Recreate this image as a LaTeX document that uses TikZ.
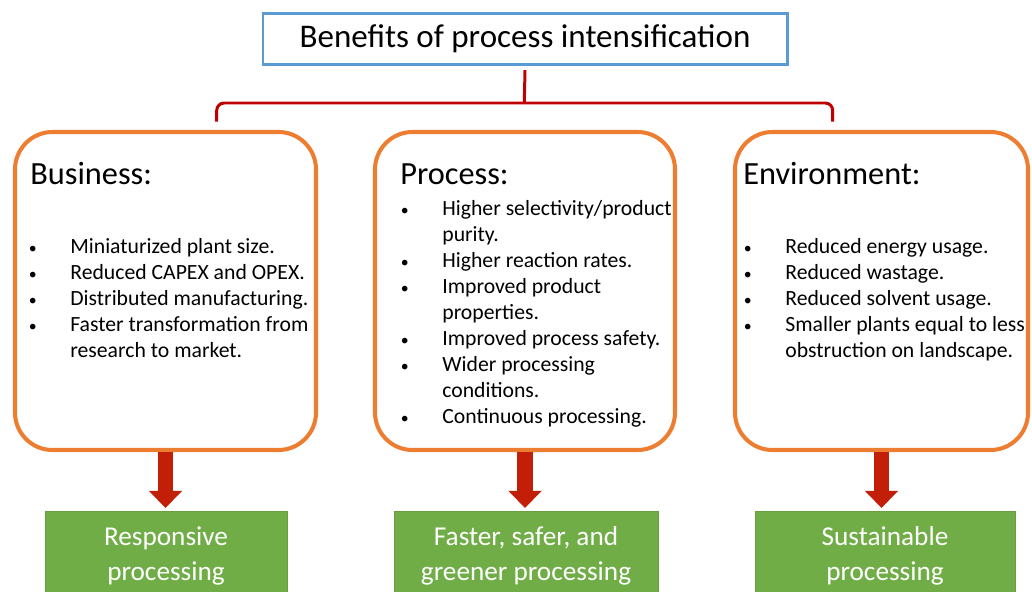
\documentclass[tikz,border=0pt]{standalone}
\usepackage{fontspec}
\setmainfont{Carlito}
\usetikzlibrary{arrows.meta}
\definecolor{piblue}{RGB}{91,155,213}
\definecolor{piorange}{RGB}{237,125,49}
\definecolor{pired}{RGB}{192,0,0}
\definecolor{piarrow}{RGB}{194,30,8}
\definecolor{pigreen}{RGB}{112,173,71}
\newcommand{\pibullet}{\hspace{0.4mm}{\fontsize{9}{9}\selectfont\textbullet}}
\tikzstyle{titlebox} = [draw=piblue, line width=1.7pt, rectangle, inner sep=0pt,
    outer sep=0pt, minimum width=104.8mm, minimum height=10.1mm,
    font=\fontsize{18.8}{22}\selectfont]
\tikzstyle{group} = [draw=piorange, line width=2.3pt, rectangle, rounded corners=7.5mm,
    fill=white, inner sep=0pt, outer sep=0pt, minimum height=63.6mm]
\tikzstyle{heading} = [anchor=base west, inner sep=0pt, font=\fontsize{18.4}{22}\selectfont]
\tikzstyle{items} = [anchor=base west, inner sep=0pt, font=\fontsize{12.35}{14.8}\selectfont]
\tikzstyle{result} = [fill=pigreen, draw=pigreen!92!black, rectangle, inner sep=0pt,
    outer sep=0pt, minimum height=18mm, text=white, align=center,
    font=\fontsize{15.5}{19.9}\selectfont]
\tikzstyle{brace} = [draw=pired, line width=1.7pt, rounded corners=1.5mm]
\tikzstyle{bigarrow} = [draw=piarrow, line width=9pt,
    -{Triangle[width=18.2pt,length=9.7pt]}, shorten <=1.2pt, shorten >=1.7pt]

\begin{document}
\begin{tikzpicture}[x=0.2mm, y=-0.2mm]
    \useasboundingbox (0,0) rectangle (1032,591);
    \clip (0,0) rectangle (1032,591);
    % We start by placing the title and the three groups
    \node [titlebox] (title) at (525,38.8) {Benefits of process intensification};
    \node [group, minimum width=60.2mm] (business) at (165.5,291) {};
    \node [group, minimum width=60mm] (process) at (525,291) {};
    \node [group, minimum width=58.6mm] (environment) at (881.5,291) {};

    % Headings and bullet lists inside the groups
    \node [heading] (bushead) at (30,184) {Business:};
    \node [items] (buslist) at (26.5,253) {\begin{tabular}[t]{@{}p{8.7mm}@{}l@{}}
        \pibullet & Miniaturized plant size.\\
        \pibullet & Reduced CAPEX and OPEX.\\
        \pibullet & Distributed manufacturing.\\
        \pibullet & Faster transformation from\\
                  & research to market.
    \end{tabular}};
    \node [heading] (prohead) at (400,184) {Process:};
    \node [items] (prolist) at (398.5,215) {\begin{tabular}[t]{@{}p{8.7mm}@{}l@{}}
        \pibullet & Higher selectivity/product\\
                  & purity.\\
        \pibullet & Higher reaction rates.\\
        \pibullet & Improved product\\
                  & properties.\\
        \pibullet & Improved process safety.\\
        \pibullet & Wider processing\\
                  & conditions.\\
        \pibullet & Continuous processing.
    \end{tabular}};
    \node [heading] (envhead) at (743,184) {Environment:};
    \node [items] (envlist) at (741.5,253) {\begin{tabular}[t]{@{}p{8.7mm}@{}l@{}}
        \pibullet & Reduced energy usage.\\
        \pibullet & Reduced wastage.\\
        \pibullet & Reduced solvent usage.\\
        \pibullet & Smaller plants equal to less\\
                  & obstruction on landscape.
    \end{tabular}};

    % The outcomes at the bottom
    \node [result, minimum width=48.4mm] (busres) at (166,556) {Responsive\\processing};
    \node [result, minimum width=52.8mm] (prores) at (526,556) {Faster, safer, and\\greener processing};
    \node [result, minimum width=52mm] (envres) at (885,556) {Sustainable\\processing};

    % The brace under the title
    \coordinate (bl) at (216.7,121.5);
    \coordinate (br) at (832.7,121.5);
    \coordinate (bm) at (524.3,103);
    \draw [brace] (bl) -- ++(0,-18.5) -| (br);
    \draw [brace, rounded corners=0] (title.south) ++(0,6) -- (bm);

    % Once the nodes are placed, connecting them is easy.
    \draw [bigarrow] (business.south) -- (business.south |- busres.north);
    \draw [bigarrow] (process.south) -- (process.south |- prores.north);
    \draw [bigarrow] (environment.south) -- (environment.south |- envres.north);
\end{tikzpicture}
\end{document}
